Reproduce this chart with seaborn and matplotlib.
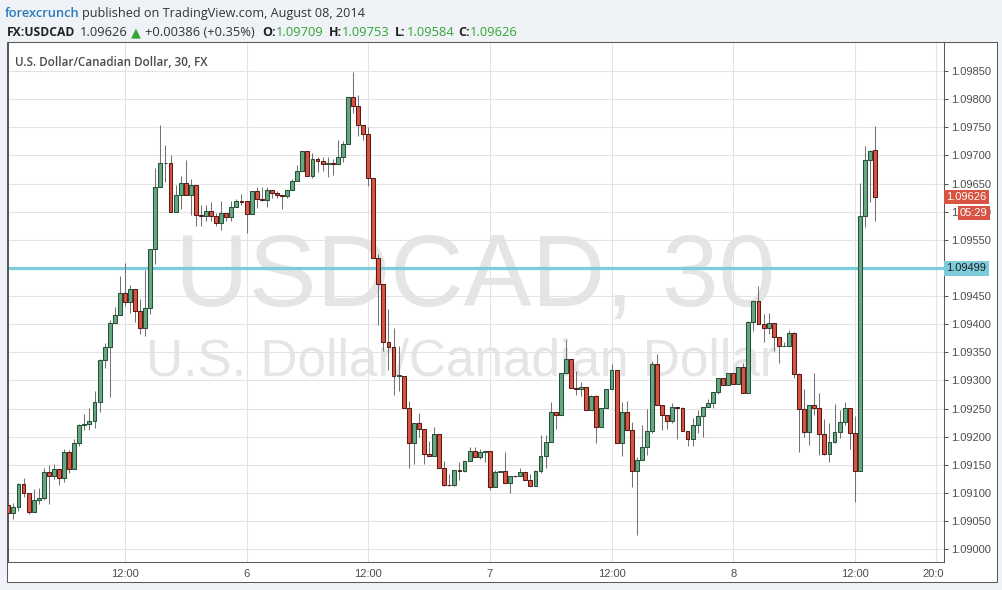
import numpy as np
import pandas as pd
import matplotlib
matplotlib.use('Agg')
import matplotlib.pyplot as plt
import matplotlib.dates as mdates
from matplotlib.patches import Rectangle
from matplotlib.ticker import FixedLocator, FormatStrFormatter
from matplotlib.transforms import Bbox, TransformedBbox, blended_transform_factory
import seaborn as sns

# USDCAD 30 min candles, 5 Aug 2014 00:30 -> 8 Aug 2014 14:00
opens = [
    1.09079, 1.09064, 1.09075, 1.09116, 1.09100, 1.09066, 1.09088, 1.09091, 1.09138, 1.09130,
    1.09143, 1.09127, 1.09173, 1.09143, 1.09188, 1.09221, 1.09222, 1.09228, 1.09262, 1.09337,
    1.09360, 1.09402, 1.09416, 1.09455, 1.09439, 1.09462, 1.09423, 1.09393, 1.09429, 1.09534,
    1.09644, 1.09686, 1.09686, 1.09600, 1.09629, 1.09651, 1.09629, 1.09648, 1.09594, 1.09592,
    1.09601, 1.09592, 1.09580, 1.09598, 1.09591, 1.09608, 1.09619, 1.09619, 1.09596, 1.09637,
    1.09622, 1.09620, 1.09638, 1.09633, 1.09629, 1.09628, 1.09638, 1.09654, 1.09673, 1.09708,
    1.09664, 1.09693, 1.09690, 1.09685, 1.09686, 1.09685, 1.09697, 1.09721, 1.09803, 1.09788,
    1.09754, 1.09738, 1.09660, 1.09517, 1.09471, 1.09369, 1.09359, 1.09308, 1.09308, 1.09251,
    1.09189, 1.09225, 1.09214, 1.09170, 1.09166, 1.09204, 1.09145, 1.09115, 1.09114, 1.09141,
    1.09139, 1.09157, 1.09175, 1.09164, 1.09173, 1.09175, 1.09111, 1.09138, 1.09139, 1.09118,
    1.09131, 1.09131, 1.09138, 1.09124, 1.09113, 1.09140, 1.09166, 1.09191, 1.09244, 1.09239,
    1.09313, 1.09338, 1.09287, 1.09285, 1.09288, 1.09248, 1.09272, 1.09218, 1.09251, 1.09285,
    1.09319, 1.09188, 1.09244, 1.09212, 1.09140, 1.09159, 1.09182, 1.09210, 1.09329, 1.09257,
    1.09239, 1.09228, 1.09253, 1.09251, 1.09210, 1.09196, 1.09220, 1.09236, 1.09252, 1.09260,
    1.09279, 1.09304, 1.09292, 1.09313, 1.09293, 1.09324, 1.09277, 1.09404, 1.09441, 1.09400,
    1.09393, 1.09402, 1.09377, 1.09361, 1.09361, 1.09384, 1.09311, 1.09249, 1.09208, 1.09256,
    1.09251, 1.09205, 1.09170, 1.09191, 1.09209, 1.09226, 1.09251, 1.09207, 1.09140, 1.09592,
    1.09691, 1.09709]
highs = [
    1.09101, 1.09082, 1.09118, 1.09127, 1.09100, 1.09107, 1.09109, 1.09145, 1.09150, 1.09152,
    1.09143, 1.09179, 1.09176, 1.09196, 1.09223, 1.09241, 1.09251, 1.09281, 1.09339, 1.09367,
    1.09408, 1.09431, 1.09486, 1.09509, 1.09470, 1.09462, 1.09444, 1.09496, 1.09534, 1.09678,
    1.09754, 1.09718, 1.09700, 1.09648, 1.09664, 1.09691, 1.09658, 1.09648, 1.09612, 1.09612,
    1.09618, 1.09598, 1.09619, 1.09598, 1.09619, 1.09622, 1.09631, 1.09619, 1.09637, 1.09644,
    1.09644, 1.09644, 1.09638, 1.09636, 1.09629, 1.09638, 1.09658, 1.09683, 1.09708, 1.09708,
    1.09705, 1.09697, 1.09697, 1.09697, 1.09693, 1.09728, 1.09726, 1.09803, 1.09849, 1.09808,
    1.09754, 1.09751, 1.09660, 1.09524, 1.09471, 1.09427, 1.09393, 1.09362, 1.09308, 1.09264,
    1.09225, 1.09243, 1.09214, 1.09193, 1.09218, 1.09204, 1.09157, 1.09133, 1.09141, 1.09156,
    1.09157, 1.09182, 1.09182, 1.09179, 1.09175, 1.09175, 1.09141, 1.09139, 1.09173, 1.09131,
    1.09131, 1.09145, 1.09138, 1.09134, 1.09141, 1.09203, 1.09203, 1.09262, 1.09244, 1.09313,
    1.09372, 1.09338, 1.09317, 1.09297, 1.09288, 1.09274, 1.09274, 1.09251, 1.09285, 1.09329,
    1.09319, 1.09262, 1.09264, 1.09226, 1.09164, 1.09221, 1.09249, 1.09334, 1.09347, 1.09257,
    1.09239, 1.09260, 1.09253, 1.09253, 1.09210, 1.09233, 1.09248, 1.09252, 1.09267, 1.09279,
    1.09304, 1.09304, 1.09313, 1.09313, 1.09324, 1.09331, 1.09405, 1.09441, 1.09467, 1.09418,
    1.09420, 1.09402, 1.09377, 1.09368, 1.09390, 1.09386, 1.09313, 1.09284, 1.09256, 1.09313,
    1.09277, 1.09232, 1.09224, 1.09258, 1.09247, 1.09261, 1.09251, 1.09236, 1.09651, 1.09716,
    1.09710, 1.09753]
lows = [
    1.09062, 1.09054, 1.09068, 1.09093, 1.09062, 1.09066, 1.09080, 1.09088, 1.09080, 1.09125,
    1.09114, 1.09120, 1.09136, 1.09143, 1.09184, 1.09212, 1.09212, 1.09215, 1.09244, 1.09323,
    1.09270, 1.09402, 1.09416, 1.09432, 1.09420, 1.09404, 1.09382, 1.09379, 1.09418, 1.09507,
    1.09644, 1.09652, 1.09600, 1.09600, 1.09604, 1.09629, 1.09594, 1.09575, 1.09575, 1.09584,
    1.09584, 1.09575, 1.09568, 1.09584, 1.09584, 1.09608, 1.09611, 1.09562, 1.09596, 1.09606,
    1.09619, 1.09608, 1.09624, 1.09624, 1.09604, 1.09624, 1.09638, 1.09654, 1.09673, 1.09664,
    1.09660, 1.09670, 1.09673, 1.09661, 1.09665, 1.09685, 1.09688, 1.09721, 1.09776, 1.09735,
    1.09728, 1.09646, 1.09517, 1.09399, 1.09353, 1.09319, 1.09275, 1.09282, 1.09251, 1.09145,
    1.09152, 1.09199, 1.09152, 1.09165, 1.09166, 1.09145, 1.09113, 1.09113, 1.09113, 1.09124,
    1.09137, 1.09157, 1.09164, 1.09161, 1.09156, 1.09106, 1.09111, 1.09138, 1.09118, 1.09100,
    1.09128, 1.09131, 1.09124, 1.09113, 1.09113, 1.09136, 1.09145, 1.09191, 1.09214, 1.09239,
    1.09313, 1.09287, 1.09274, 1.09272, 1.09248, 1.09248, 1.09189, 1.09218, 1.09251, 1.09285,
    1.09188, 1.09166, 1.09212, 1.09110, 1.09026, 1.09159, 1.09168, 1.09207, 1.09257, 1.09212,
    1.09213, 1.09224, 1.09196, 1.09210, 1.09183, 1.09183, 1.09206, 1.09199, 1.09252, 1.09251,
    1.09276, 1.09292, 1.09292, 1.09293, 1.09293, 1.09277, 1.09277, 1.09388, 1.09400, 1.09368,
    1.09382, 1.09352, 1.09331, 1.09361, 1.09361, 1.09304, 1.09172, 1.09199, 1.09185, 1.09238,
    1.09168, 1.09168, 1.09156, 1.09188, 1.09198, 1.09220, 1.09179, 1.09084, 1.09140, 1.09572,
    1.09617, 1.09584]
closes = [
    1.09064, 1.09075, 1.09116, 1.09100, 1.09066, 1.09088, 1.09091, 1.09138, 1.09130, 1.09143,
    1.09127, 1.09173, 1.09143, 1.09188, 1.09221, 1.09222, 1.09228, 1.09262, 1.09337, 1.09360,
    1.09402, 1.09416, 1.09455, 1.09439, 1.09462, 1.09423, 1.09393, 1.09429, 1.09534, 1.09644,
    1.09686, 1.09687, 1.09600, 1.09629, 1.09651, 1.09629, 1.09648, 1.09594, 1.09592, 1.09601,
    1.09592, 1.09580, 1.09598, 1.09591, 1.09608, 1.09619, 1.09618, 1.09596, 1.09637, 1.09622,
    1.09620, 1.09638, 1.09633, 1.09629, 1.09628, 1.09638, 1.09654, 1.09672, 1.09708, 1.09664,
    1.09693, 1.09690, 1.09685, 1.09686, 1.09685, 1.09697, 1.09721, 1.09803, 1.09788, 1.09754,
    1.09738, 1.09660, 1.09517, 1.09471, 1.09369, 1.09359, 1.09308, 1.09309, 1.09251, 1.09189,
    1.09225, 1.09214, 1.09170, 1.09166, 1.09204, 1.09145, 1.09115, 1.09114, 1.09141, 1.09139,
    1.09157, 1.09175, 1.09164, 1.09173, 1.09175, 1.09111, 1.09138, 1.09139, 1.09118, 1.09131,
    1.09130, 1.09138, 1.09124, 1.09113, 1.09140, 1.09166, 1.09191, 1.09244, 1.09239, 1.09313,
    1.09338, 1.09287, 1.09285, 1.09288, 1.09248, 1.09272, 1.09218, 1.09251, 1.09285, 1.09319,
    1.09188, 1.09244, 1.09212, 1.09140, 1.09159, 1.09182, 1.09210, 1.09329, 1.09257, 1.09239,
    1.09228, 1.09253, 1.09251, 1.09210, 1.09196, 1.09220, 1.09236, 1.09252, 1.09260, 1.09279,
    1.09304, 1.09292, 1.09313, 1.09293, 1.09324, 1.09277, 1.09404, 1.09441, 1.09400, 1.09393,
    1.09402, 1.09377, 1.09361, 1.09361, 1.09384, 1.09311, 1.09249, 1.09208, 1.09256, 1.09251,
    1.09205, 1.09170, 1.09191, 1.09209, 1.09226, 1.09251, 1.09207, 1.09140, 1.09592, 1.09691,
    1.09707, 1.09626]

first_bar = '2014-08-05 00:30'
tick_times = ['2014-08-05 12:00', '2014-08-06 00:00', '2014-08-06 12:00', '2014-08-07 00:00',
              '2014-08-07 12:00', '2014-08-08 00:00', '2014-08-08 12:00', '2014-08-08 20:00']
tick_labels = ['12:00', '6', '12:00', '7', '12:00', '8', '12:00', '20:00']
price_ticks = [1.09000, 1.09050, 1.09100, 1.09150, 1.09200, 1.09250, 1.09300, 1.09350, 1.09400,
               1.09450, 1.09500, 1.09550, 1.09600, 1.09650, 1.09700, 1.09750, 1.09800, 1.09850]
hline_level = 1.09499
countdown = '05:29'
change = '+0.00386 (+0.35%)'

sns.set_theme(style='white')
plt.rcParams['font.family'] = ['Liberation Sans', 'DejaVu Sans']

W, H = 1002, 590
fig = plt.figure(figsize=(W / 100, H / 100), dpi=100, facecolor='#eff2f6')


def fx(px):
    return px / W


def fy(py):
    return 1 - py / H


# white chart panel
fig.patches.append(Rectangle((fx(7), fy(582)), fx(997) - fx(7), fy(42) - fy(582),
                             transform=fig.transFigure, facecolor='white',
                             edgecolor='#5a5a5a', lw=0.75, zorder=-1))

ax = fig.add_axes([fx(7.5), fy(562), fx(944) - fx(7.5), fy(42) - fy(562)])
ax.set_facecolor('white')
ax.set_axisbelow(True)

times = pd.date_range(first_bar, periods=len(opens), freq='30min')
xs = mdates.date2num(times)
o, h, l, c = (np.array(v) for v in (opens, highs, lows, closes))
up = c >= o
bw = 23 / 1440

ax.vlines(xs, l, h, color='#737375', lw=0.75, zorder=2)
ax.bar(xs[up], (c - o)[up], width=bw, bottom=o[up], color='#6ba583',
       edgecolor='#225437', lw=0.75, zorder=3)
ax.bar(xs[~up], (o - c)[~up], width=bw, bottom=c[~up], color='#d75442',
       edgecolor='#5b1a13', lw=0.75, zorder=3)

ax.axhline(hline_level, color='#7ecbd9', lw=2.3, zorder=1.5)

# watermark
ax.text(fx(475), fy(306), 'USDCAD, 30', transform=fig.transFigure, ha='center',
        va='baseline', fontsize=73.4, color='#e5e5e5', zorder=0.3)
ax.text(fx(461), fy(375), 'U.S. Dollar/Canadian Dollar', transform=fig.transFigure,
        ha='center', va='baseline', fontsize=37, color='#e5e5e5', zorder=0.3)

ax.set_xlim(xs[0] - 5 / 1440, xs[0] + 184.6 * 30 / 1440)
ax.set_ylim(1.089774, 1.099015)
ax.set_xticks(mdates.date2num(pd.to_datetime(tick_times)))
ax.set_xticklabels(tick_labels)
ax.yaxis.tick_right()
ax.yaxis.set_major_locator(FixedLocator(price_ticks))
ax.yaxis.set_major_formatter(FormatStrFormatter('%.5f'))
ax.tick_params(axis='y', length=3, width=0.75, color='#555555', labelsize=8,
               labelcolor='#4d4d4d', pad=2, right=True, left=False)
ax.tick_params(axis='x', length=0, labelsize=8, labelcolor='#4d4d4d', pad=5)
ax.grid(True, color='#e3e3e3', lw=0.75)
for s in ax.spines.values():
    s.set_color('#5a5a5a')
    s.set_linewidth(0.75)

# clip the last time label at the price scale, as on the original
clip = TransformedBbox(Bbox([[0, 0], [1, 1]]),
                       blended_transform_factory(ax.transAxes, fig.transFigure))
for lbl in ax.get_xticklabels():
    lbl.set_clip_box(clip)
    lbl.set_clip_on(True)

# the cyan marker hides the 1.09500 scale label completely
for val, lbl in zip(price_ticks, ax.get_yticklabels()):
    if abs(val - hline_level) < 0.0002:
        lbl.set_visible(False)

# price labels on the scale
blend = blended_transform_factory(ax.transAxes, ax.transData)
ax.annotate(f'{closes[-1]:.5f}', xy=(1, closes[-1]), xycoords=blend, xytext=(1.6, 0),
            textcoords='offset points', ha='left', va='center', fontsize=8, color='white',
            bbox=dict(boxstyle='square,pad=0.22', fc='#d75442', ec='none'),
            annotation_clip=False, zorder=10)
ax.annotate(countdown, xy=(1, closes[-1]), xycoords=blend, xytext=(11.5, -11.5),
            textcoords='offset points', ha='left', va='center', fontsize=8, color='white',
            bbox=dict(boxstyle='square,pad=0.22', fc='#d75442', ec='none'),
            annotation_clip=False, zorder=10)
ax.annotate(f'{hline_level:.5f}', xy=(1, hline_level), xycoords=blend, xytext=(1.6, 0),
            textcoords='offset points', ha='left', va='center', fontsize=8, color='#1f1f1f',
            bbox=dict(boxstyle='square,pad=0.22', fc='#7ecbd9', ec='none'),
            annotation_clip=False, zorder=10)

# panel title
fig.text(fx(15), fy(66), 'U.S. Dollar/Canadian Dollar, 30, FX', fontsize=8.4,
         color='#4a4a4a', family=['Open Sans', 'DejaVu Sans'], weight='semibold', va='baseline')

# header
hdr = ['Open Sans', 'DejaVu Sans']
fig.text(fx(5), fy(17), 'forexcrunch', fontsize=9.3, color='#2b7bb9', weight='semibold',
         family=hdr, va='baseline')
fig.text(fx(82), fy(17), 'published on TradingView.com, August 08, 2014', fontsize=9.1,
         color='#333333', family=hdr, va='baseline')

green = '#33a532'
pieces = [
    (7, 'FX:USDCAD', '#222222', 'bold', 8.7),
    (80, f'{closes[-1]:.5f}', '#333333', 'normal', 9.3),
    (131, '\u25B2', green, 'normal', 9.3),
    (145, change, '#333333', 'normal', 9.3),
    (262, 'O:', '#222222', 'bold', 9.0),
    (276, f'{opens[-1]:.5f}', green, 'normal', 9.3),
    (329, 'H:', '#222222', 'bold', 9.0),
    (342, f'{highs[-1]:.5f}', green, 'normal', 9.3),
    (395, 'L:', '#222222', 'bold', 9.0),
    (407, f'{lows[-1]:.5f}', green, 'normal', 9.3),
    (458, 'C:', '#222222', 'bold', 9.0),
    (470, f'{closes[-1]:.5f}', green, 'normal', 9.3),
]
for px, txt, col, wt, fs in pieces:
    fig.text(fx(px), fy(36), txt, fontsize=fs, color=col, weight=wt, family=hdr,
             va='baseline')

fig.savefig('out.png', dpi=100, facecolor=fig.get_facecolor())
